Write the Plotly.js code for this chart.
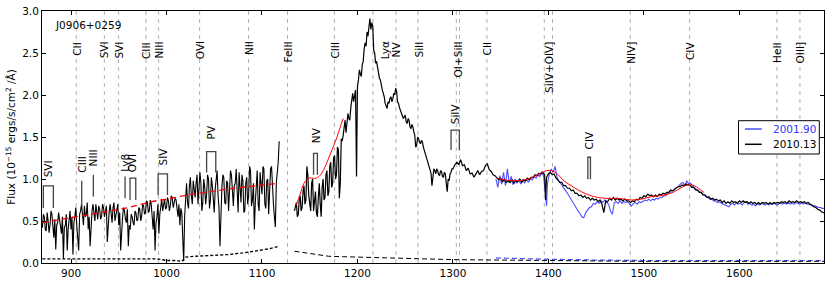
<!DOCTYPE html>
<html>
<head>
<meta charset="utf-8">
<script src="https://cdn.plot.ly/plotly-3.0.1.min.js"></script>
<style>html,body{margin:0;padding:0;background:#fff;}#chart{width:830px;height:284px;}</style>
</head>
<body>
<div id="chart"></div>
<script>
// ---------- DATA ----------
// 2010.13 spectrum, blue side of the gap
const waveA = [
870,871,872,873,874,875,876,877,878,879,
880,881,882,883,884,885,886,887,888,889,
890,891,892,893,894,895,896,897,898,899,
900,901,902,903,904,905,906,907,908,909,
910,911,912,913,914,915,916,917,918,919,
920,921,922,923,924,925,926,927,928,929,
930,931,932,933,934,935,936,937,938,939,
940,941,942,943,944,945,946,947,948,949,
950,951,952,953,954,955,956,957,958,959,
960,961,962,963,964,965,966,967,968,969,
970,971,972,973,974,975,976,977,978,979,
980,981,982,983,984,985,986,987,988,989,
990,991,992,993,994,995,996,997,998,999,
1000,1001,1002,1003,1004,1005,1006,1007,1008,1009,
1010,1011,1012,1013,1014,1015,1016,1017,1018,1019,
1020,1021,1022,1023,1024,1025,1026,1027,1028,1029,
1030,1031,1032,1033,1034,1035,1036,1037,1038,1039,
1040,1041,1042,1043,1044,1045,1046,1047,1048,1049,
1050,1051,1052,1053,1054,1055,1056,1057,1058,1059,
1060,1061,1062,1063,1064,1065,1066,1067,1068,1069,
1070,1071,1072,1073,1074,1075,1076,1077,1078,1079,
1080,1081,1082,1083,1084,1085,1086,1087,1088,1089,
1090,1091,1092,1093,1094,1095,1096,1097,1098,1099,
1100,1101,1102,1103,1104,1105,1106,1107,1108,1109,
1110,1111,1112,1113,1114,1115,1116,1117,1118];
const fluxA = [
0.42,0.58,0.55,0.40,0.38,0.60,0.50,0.36,0.45,0.62,
0.58,0.40,0.30,0.52,0.16,0.45,0.48,0.60,0.52,0.38,
0.35,0.55,0.05,0.42,0.45,0.58,0.15,0.40,0.50,0.62,
0.40,0.55,0.10,0.48,0.55,0.66,0.45,0.30,0.15,0.58,
0.62,0.70,0.52,0.45,0.68,0.55,0.58,0.72,0.40,0.55,
0.20,0.48,0.62,0.70,0.55,0.50,0.70,0.62,0.52,0.68,
0.64,0.52,0.56,0.70,0.66,0.55,0.60,0.68,0.25,0.50,
0.62,0.70,0.55,0.48,0.66,0.72,0.50,0.58,0.62,0.70,
0.45,0.60,0.15,0.42,0.55,0.66,0.62,0.52,0.48,0.64,
0.20,0.45,0.40,0.58,0.55,0.48,0.45,0.62,0.60,0.50,
0.52,0.66,0.64,0.50,0.56,0.70,0.68,0.58,0.60,0.74,
0.72,0.60,0.62,0.75,0.70,0.55,0.40,0.62,0.15,0.48,
0.55,0.70,0.35,0.58,0.70,0.76,0.62,0.68,0.76,0.64,
0.66,0.78,0.74,0.62,0.68,0.80,0.78,0.66,0.70,0.77,
0.75,0.62,0.55,0.70,0.45,0.65,0.60,0.30,0.02,0.55,
0.80,0.95,0.72,0.65,0.92,1.02,0.80,0.70,0.98,0.85,
0.78,0.95,1.05,0.70,0.85,1.08,0.95,0.62,0.72,1.00,
0.90,0.70,0.82,1.05,1.00,0.65,0.75,1.02,0.92,0.68,
0.60,0.88,0.98,1.10,0.80,0.65,0.20,0.75,0.90,1.05,
1.02,0.72,0.70,0.98,0.95,0.62,0.80,1.10,1.05,0.75,
0.68,0.92,0.95,1.12,0.85,0.60,1.08,0.90,0.72,1.05,
0.98,0.60,0.62,0.95,1.02,0.70,0.80,1.15,1.10,0.68,
0.75,0.95,0.40,0.72,0.95,1.10,0.70,0.62,1.08,0.92,
0.82,1.15,1.12,0.70,0.65,0.98,1.00,0.58,0.78,1.12,
1.15,0.85,0.70,0.55,0.43,0.95,1.05,1.20,1.45];
// 2010.13 spectrum, red side of the gap
const waveB = [
1134,1135,1136,1137,1138,1139,1140,1141,1142,1143,
1144,1145,1146,1147,1148,1149,1150,1151,1152,1153,
1154,1155,1156,1157,1158,1159,1160,1161,1162,1163,
1164,1165,1166,1167,1168,1169,1170,1171,1172,1173,
1174,1175,1176,1177,1178,1179,1180,1181,1182,1183,
1184,1185,1186,1187,1188,1189,1190,1191,1192,1193,
1194,1195,1196,1197,1198,1199,
1200,1201,1202,1203,1204,1205,1206,1207,1208,1209,
1210,1211,1212,1213,1214,1215,1216,1217,1218,1219,
1220,1221,1222,1223,1224,1225,1226,1227,1228,1229,
1230,1231,1232,1233,1234,1235,1236,1237,1238,1239,
1240,1241,1242,1243,1244,1245,1246,1247,1248,1249,
1250,1251,1252,1253,1254,1255,1256,1257,1258,1259,
1260,1261,1262,1263,1264,1265,1266,1267,1268,1269,
1270,1271,1272,1273,1274,1275,1276,1277,1278,1279,
1280,1281,1282,1283,1284,1285,1286,1287,1288,1289,
1290,1291,1292,1293,1294,1295,1296,1297,1298,1299,
1300,1302,1304,1306,1308,1310,1312,1314,1316,1318,
1320,1322,1324,1326,1328,1330,1332,1334,1336,1338,
1340,1342,1344,1346,1348,1350,1352,1354,1356,1358,
1360,1362,1364,1366,1368,1370,1372,1374,1376,1378,
1380,1382,1384,1386,1388,1390,1392,1394,1396,1397,
1398,1400,1402,1404,1406,1408,1410,1412,1414,1416,
1418,1420,1422,1424,1426,1428,1430,1432,1434,1436,
1438,1440,1442,1444,1446,1448,1450,1452,1454,1456,
1458,1460,1462,1464,1466,1468,1470,1472,1474,1476,
1478,1480,1482,1484,1486,1488,1490,1492,1494,1496,
1498,1500,1502,1504,1506,1508,1510,1512,1514,1516,
1518,1520,1522,1524,1526,1528,1530,1532,1534,1536,
1538,1540,1542,1544,1546,1548,1550,1552,1554,1556,
1558,1560,1562,1564,1566,1568,1570,1572,1574,1576,
1578,1580,1582,1584,1586,1588,1590,1592,1594,1596,
1598,1600,1602,1604,1606,1608,1610,1612,1614,1616,
1618,1620,1622,1624,1626,1628,1630,1632,1634,1636,
1638,1640,1642,1644,1646,1648,1650,1652,1654,1656,
1658,1660,1662,1664,1666,1668,1670,1672,1674,1676,
1678,1680,1682,1684,1686,1688,1690];
const fluxB = [
0.62,0.70,0.72,0.55,0.58,0.75,0.80,0.62,0.66,0.85,
0.92,0.70,0.75,1.15,1.05,0.80,0.70,0.62,0.95,1.00,
0.62,0.80,0.85,0.60,0.55,0.78,0.95,0.70,0.55,0.90,
1.00,0.75,0.78,1.05,1.10,0.80,0.85,1.15,1.20,0.90,
0.95,1.25,1.28,1.00,1.05,1.38,1.35,0.77,0.95,1.48,
1.45,1.52,1.62,1.70,1.55,1.68,1.78,1.72,1.70,1.85,
1.98,2.02,1.92,2.00,2.06,1.03,
2.10,2.18,2.30,2.25,2.22,2.36,2.40,2.55,2.62,2.58,
2.75,2.70,2.85,2.91,2.78,2.86,2.82,2.53,2.50,2.38,
2.40,2.32,2.28,2.20,2.18,2.10,2.06,2.02,1.98,1.90,
1.85,1.84,1.92,1.90,1.96,1.98,1.92,1.95,2.02,2.00,
2.08,2.04,1.92,1.90,1.85,1.82,1.80,1.76,1.72,1.74,
1.76,1.68,1.66,1.72,1.70,1.62,1.60,1.65,1.62,1.56,
1.52,1.38,1.40,1.50,1.48,1.44,1.42,1.46,1.44,1.38,
1.34,1.30,1.25,1.20,1.18,1.14,1.10,1.07,0.92,1.08,
1.12,1.10,1.06,1.12,1.10,1.05,1.04,1.10,1.09,1.03,
1.02,1.08,1.06,0.95,0.85,1.00,0.98,1.06,1.08,1.12,
1.12,1.17,1.20,1.17,1.23,1.16,1.17,1.10,1.13,1.06,
1.07,1.02,1.06,1.10,1.05,1.09,1.10,1.16,1.18,1.11,
1.09,1.05,1.04,1.01,0.99,1.01,0.97,0.99,0.96,0.98,
0.96,0.99,0.95,0.98,0.97,1.00,0.96,0.99,0.98,1.01,
0.99,1.02,1.02,1.05,1.04,1.07,1.06,1.08,1.05,0.75,
1.02,1.06,1.08,1.05,1.06,1.01,0.99,0.96,0.96,0.92,
0.92,0.89,0.89,0.86,0.87,0.83,0.83,0.80,0.81,0.78,
0.80,0.77,0.78,0.75,0.77,0.75,0.76,0.73,0.75,0.70,
0.60,0.74,0.73,0.77,0.75,0.78,0.75,0.77,0.75,0.76,
0.74,0.76,0.74,0.74,0.72,0.74,0.73,0.76,0.75,0.78,
0.77,0.80,0.79,0.82,0.80,0.81,0.79,0.81,0.79,0.82,
0.81,0.83,0.82,0.84,0.84,0.87,0.86,0.88,0.89,0.91,
0.91,0.93,0.92,0.94,0.93,0.93,0.90,0.90,0.87,0.87,
0.84,0.84,0.81,0.81,0.78,0.79,0.76,0.77,0.75,0.76,
0.74,0.75,0.72,0.74,0.71,0.73,0.71,0.74,0.72,0.73,
0.71,0.74,0.72,0.74,0.72,0.73,0.71,0.73,0.71,0.72,
0.70,0.72,0.70,0.72,0.71,0.72,0.70,0.72,0.70,0.72,
0.71,0.72,0.71,0.73,0.72,0.73,0.71,0.74,0.72,0.73,
0.72,0.74,0.72,0.73,0.72,0.73,0.71,0.72,0.70,0.69,
0.67,0.66,0.64,0.63,0.61,0.60,0.59];
// 2001.90 spectrum
const waveOld = [
1345,1347,1349,1351,1353,1355,1357,1359,1361,1363,
1365,1367,1369,1371,1373,1375,1377,1379,1381,1383,
1385,1387,1389,1391,1393,1395,1397,1398,
1399,1401,1403,1405,1407,1409,1411,1413,1415,1417,
1419,1421,1423,1425,1427,1429,1431,1433,1435,1437,
1439,1441,1443,1445,1447,1449,1451,1453,1455,1457,
1459,1461,1463,1465,1467,1469,1471,1473,1475,1477,
1479,1481,1483,1485,1487,1489,1491,1493,1495,1497,
1499,1501,1503,1505,1507,1509,1511,1513,1515,1517,
1519,1521,1523,1525,1527,1529,1531,1533,1535,1537,
1539,1541,1543,1545,1547,1549,1551,1553,1555,1557,
1559,1561,1563,1565,1567,1569,1571,1573,1575,1577,
1579,1581,1583,1585,1587,1589,1591,1593,1595,1597,
1599,1601,1603,1605,1607,1609,1611,1613,1615,1617,
1619,1621,1623,1625,1627,1629,1631,1633,1635,1637,
1639,1641,1643,1645,1647,1649,1651,1653,1655,1657,
1659,1661,1663,1665,1667,1669,1671,1673,1675,1677,
1679,1681,1683,1685,1687,1689];
const fluxOld = [
1.00,0.90,1.04,0.94,1.08,0.92,1.12,0.95,1.03,0.93,
1.00,0.95,0.99,0.94,0.99,0.95,1.00,0.96,1.01,0.99,
1.03,1.01,1.05,1.03,1.09,1.03,0.80,0.68,
0.95,1.06,1.12,1.08,1.15,1.02,0.98,0.94,0.91,0.88,
0.85,0.81,0.77,0.73,0.70,0.66,0.62,0.59,0.55,0.54,
0.60,0.63,0.66,0.67,0.71,0.70,0.73,0.71,0.74,0.72,
0.75,0.72,0.70,0.62,0.58,0.72,0.73,0.71,0.74,0.71,
0.73,0.72,0.73,0.70,0.68,0.71,0.72,0.70,0.73,0.72,
0.74,0.75,0.74,0.76,0.74,0.76,0.75,0.77,0.76,0.78,
0.78,0.80,0.80,0.83,0.83,0.86,0.86,0.89,0.90,0.93,
0.95,0.96,0.92,0.98,0.94,0.95,0.91,0.90,0.87,0.86,
0.84,0.82,0.81,0.79,0.78,0.76,0.76,0.74,0.74,0.72,
0.73,0.71,0.70,0.69,0.68,0.67,0.70,0.71,0.69,0.72,
0.70,0.71,0.69,0.72,0.73,0.70,0.71,0.69,0.70,0.68,
0.71,0.69,0.71,0.70,0.69,0.71,0.69,0.71,0.70,0.71,
0.69,0.70,0.72,0.70,0.71,0.70,0.72,0.70,0.71,0.70,
0.72,0.71,0.70,0.72,0.70,0.71,0.70,0.70,0.69,0.68,
0.68,0.67,0.66,0.66,0.65,0.65];
// continuum fits
const contWaveA = [870,900,931,960,984,1000,1022,1046,1071,1095,1118];
const contFluxA = [0.48,0.54,0.60,0.66,0.73,0.76,0.81,0.85,0.89,0.92,0.95];
const contWaveB = [1136,1140,1144,1149,1153,1157,1162,1167,1172,1177,1182,1185];
const contFluxB = [0.69,0.82,0.95,1.01,1.01,1.01,1.06,1.17,1.31,1.45,1.62,1.72];
const contWaveC = [1347,1354,1361,1368,1375,1385,1392,1398,1403,1407,1412,1417,1424,1431,1438,1445,1452,1459,1466,1473,1480,1487,1497,1508,1515,1522,1532,1538,1543,1549,1553,1557,1563];
const contFluxC = [1.01,0.99,0.98,0.98,0.99,1.03,1.07,1.10,1.10,1.08,1.03,0.97,0.92,0.87,0.83,0.80,0.78,0.77,0.77,0.77,0.76,0.75,0.76,0.79,0.80,0.81,0.85,0.89,0.92,0.93,0.92,0.89,0.84];
// error spectra
const errWaveA = [870,890,910,930,950,970,990,1000,1010,1016,1020,1030,1045,1064,1080,1095,1108,1118];
const errFluxA = [0.05,0.05,0.055,0.05,0.05,0.055,0.05,0.03,0.03,0.02,0.07,0.08,0.09,0.10,0.12,0.15,0.17,0.20];
const errWaveB = [1134,1145,1155,1170,1185,1200,1225,1250,1300,1350,1400,1500,1600,1690];
const errFluxB = [0.14,0.12,0.10,0.08,0.075,0.07,0.06,0.05,0.04,0.035,0.03,0.02,0.02,0.02];
const errWaveOld = [1345,1370,1400,1450,1500,1600,1690];
const errFluxOld = [0.06,0.05,0.045,0.035,0.03,0.03,0.03];
// emission line markers
const lineWaves = [905.5,934.9,949.8,978.5,991.7,1034.7,1086,1126.8,1176,1216.2,1240.3,1263.4,1303.5,1306.9,1335.6,1395.6,1404.3,1485.7,1547.7,1639.3,1663.4];
const lineLabels = ["CII","SVI","SVI","CIII","NIII","OVI","NII","FeIII","CIII","Lyα","NV","SiII","OI+SiII","CII","SiIV+OIV]","NIV]","CIV","HeII","OIII]"];
const lineLabelWaves = [905.5,934.9,949.8,978.5,991.7,1034.7,1086,1126.8,1176,1228.5,1240.3,1263.4,1305.2,1335.6,1400.5,1485.7,1547.7,1639.3,1663.4];
// absorption markers
const absLabels = ["SVI","CIII","NIII","Lyβ","OVI","SIV","PV","NV","SiIV","CIV"];
const absLo = [871,911.2,923.4,956.6,961.8,991.2,1042,1154,1298,1441.3];
const absHi = [881.5,911.2,923.4,956.6,967.8,1001,1051.6,1158,1306.7,1444];
const absTop = [0.918,0.98,1.05,1.03,1.01,1.06,1.325,1.306,1.583,1.259];
const absBot = [0.655,0.68,0.79,0.77,0.75,0.81,1.076,1.05,1.346,0.998];
const absLabelY = [1.03,1.09,1.16,1.10,1.09,1.17,1.485,1.444,1.66,1.366];
const legendNames = ["2001.90","2010.13"];
const objectName = "J0906+0259";

// ---------- LAYOUT HELPERS ----------
const M = {l:42, r:6, t:11, b:21};
const W = 830, H = 284;
const pw = W - M.l - M.r, ph = H - M.t - M.b;
const px2x = p => (p - M.l) / pw;
const px2y = p => (H - M.b - p) / ph;
const FONT = "DejaVu Sans";
const FS = 10.5;
const BLUE = "#4d4dff";

const traces = [
  {x: errWaveOld, y: errFluxOld, mode:"lines", line:{color:BLUE, width:1.2, dash:"5px,3px"}, hoverinfo:"skip"},
  {x: errWaveA, y: errFluxA, mode:"lines", line:{color:"#000", width:1.3, dash:"3px,2px"}, hoverinfo:"skip"},
  {x: errWaveB, y: errFluxB, mode:"lines", line:{color:"#000", width:1, dash:"5px,3px"}, hoverinfo:"skip"},
  {x: waveOld, y: fluxOld, mode:"lines", line:{color:BLUE, width:1.1}, name: legendNames[0]},
  {x: waveA, y: fluxA, mode:"lines", line:{color:"#000", width:1.1}, name: legendNames[1]},
  {x: waveB, y: fluxB, mode:"lines", line:{color:"#000", width:1.2}, name: legendNames[1]},
  {x: contWaveA, y: contFluxA, mode:"lines", line:{color:"#ff0000", width:1.3, dash:"6px,4px", shape:"spline"}},
  {x: contWaveB, y: contFluxB, mode:"lines", line:{color:"#ff0000", width:1, shape:"spline"}},
  {x: contWaveC, y: contFluxC, mode:"lines", line:{color:"#ff0000", width:1, shape:"spline"}}
];

const shapes = [];
lineWaves.forEach(w => shapes.push({type:"line", xref:"x", yref:"paper", x0:w, x1:w, y0:0, y1:1, layer:"below",
  line:{color:"#b0b0b0", width:1, dash:"4px,4px"}}));
absLabels.forEach((n,i) => {
  const lo = absLo[i], hi = absHi[i];
  const path = lo === hi
    ? `M${lo},${absBot[i]} L${lo},${absTop[i]}`
    : `M${lo},${absBot[i]} L${lo},${absTop[i]} L${hi},${absTop[i]} L${hi},${absBot[i]}`;
  shapes.push({type:"path", xref:"x", yref:"y", path: path, line:{color:"#444", width:1.3}});
});
// legend box
shapes.push({type:"rect", xref:"paper", yref:"paper", x0:px2x(738.5), x1:px2x(819.3), y0:px2y(154), y1:px2y(120.7),
  line:{color:"#000", width:1}, fillcolor:"#fff", layer:"above"});
shapes.push({type:"line", xref:"paper", yref:"paper", x0:px2x(745), x1:px2x(761.7), y0:px2y(129), y1:px2y(129), line:{color:BLUE, width:1.5}});
shapes.push({type:"line", xref:"paper", yref:"paper", x0:px2x(745), x1:px2x(761.7), y0:px2y(144.3), y1:px2y(144.3), line:{color:"#000", width:1.5}});

const annotations = [];
lineLabels.forEach((t,i) => annotations.push({x: lineLabelWaves[i], y: px2y(39.5), xref:"x", yref:"paper", text:t, showarrow:false,
  textangle:-90, xanchor:"center", yanchor:"top", font:{family:FONT, size:FS, color:"#000"}}));
absLabels.forEach((t,i) => annotations.push({x:(absLo[i]+absHi[i])/2, y: absLabelY[i], xref:"x", yref:"y", text:t, showarrow:false,
  textangle:-90, xanchor:"center", yanchor:"bottom", yshift:-3, font:{family:FONT, size:FS, color:"#000"}}));
annotations.push({x:px2x(53), y:px2y(24.5), xref:"paper", yref:"paper", text:objectName, showarrow:false, xanchor:"left", yanchor:"middle",
  font:{family:FONT, size:FS, color:"#000"}});
annotations.push({x:px2x(770.5), y:px2y(129), xref:"paper", yref:"paper", text:legendNames[0], showarrow:false, xanchor:"left", yanchor:"middle",
  font:{family:FONT, size:FS, color:"#3333ff"}});
annotations.push({x:px2x(770.5), y:px2y(144.3), xref:"paper", yref:"paper", text:legendNames[1], showarrow:false, xanchor:"left", yanchor:"middle",
  font:{family:FONT, size:FS, color:"#000"}});

const axisCommon = {showline:true, linecolor:"#000", linewidth:1, mirror:"ticks", ticks:"inside", ticklen:4, tickwidth:1,
  tickcolor:"#000", showgrid:false, zeroline:false, tickfont:{family:FONT, size:FS, color:"#000"}};

const layout = {
  width: W, height: H, margin: M, showlegend:false,
  paper_bgcolor:"#fff", plot_bgcolor:"#fff",
  font:{family:FONT, size:FS, color:"#000"},
  xaxis: Object.assign({}, axisCommon, {range:[869.6,1688.6], tick0:900, dtick:100}),
  yaxis: Object.assign({}, axisCommon, {range:[0,3.0], dtick:0.5, tickformat:".1f",
    title:{text:"Flux (10<sup>−15</sup> ergs/s/cm<sup>2</sup> /Å)", font:{family:FONT, size:FS, color:"#000"}, standoff:4}}),
  shapes: shapes, annotations: annotations
};

Plotly.newPlot("chart", traces, layout, {staticPlot:true, displayModeBar:false});
</script>
</body>
</html>
